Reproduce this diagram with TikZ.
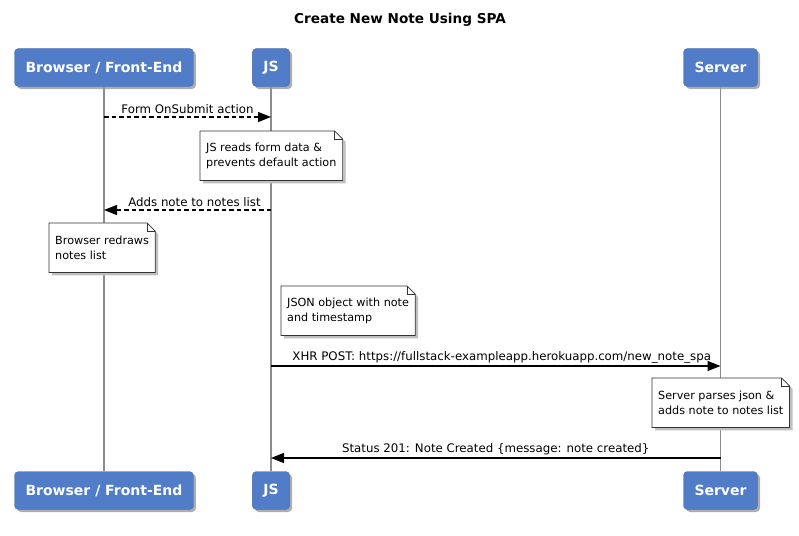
\documentclass[tikz,border=0pt]{standalone}
\usepackage{fontspec}
\setmainfont{DejaVu Sans}
\usetikzlibrary{arrows.meta,shadows}
\definecolor{actorblue}{RGB}{80,124,200}
\definecolor{lifegray}{RGB}{140,140,140}
\pgfdeclarelayer{background}
\pgfdeclarelayer{notes}
\pgfsetlayers{background,notes,main}
\tikzset{
  actor/.style={draw=actorblue!85!black, fill=actorblue, rounded corners=4pt,
    text=white, font=\bfseries\fontsize{14}{17}\selectfont, minimum height=38pt,
    inner xsep=11pt,
    drop shadow={shadow xshift=2.5pt, shadow yshift=-2.5pt, fill=black!40, opacity=.8}},
  life/.style={lifegray, line width=1.4pt},
  msg/.style={line width=1.3pt, -{Triangle[length=13pt,width=10pt]}},
  async/.style={msg, dash pattern=on 4.5pt off 3pt},
  lbl/.style={font=\fontsize{11.8}{14}\selectfont, inner sep=2.5pt, above},
  note/.style={anchor=north west, font=\fontsize{11.2}{15}\selectfont, align=left,
    inner xsep=6pt, inner ysep=4pt, minimum height=49pt},
  noteline/.style={draw=black!80, line width=0.7pt},
}
% body of a note: shadow, dog-eared outline and fold
\newcommand{\notebody}[1]{%
  \begin{pgfonlayer}{notes}
    \fill[black!25] ([shift={(3pt,-3pt)}]#1.north west) -- ([shift={(-5pt,-3pt)}]#1.north east)
      -- ([shift={(3pt,-11pt)}]#1.north east) -- ([shift={(3pt,-3pt)}]#1.south east)
      -- ([shift={(3pt,-3pt)}]#1.south west) -- cycle;
    \filldraw[noteline, fill=white] (#1.north west) -- ([xshift=-8pt]#1.north east)
      -- ([yshift=-8pt]#1.north east) -- (#1.south east) -- (#1.south west) -- cycle;
    \draw[noteline, line width=0.5pt] ([xshift=-8pt]#1.north east) |- ([yshift=-8pt]#1.north east);
  \end{pgfonlayer}}
\begin{document}
\begin{tikzpicture}[x=1pt, y=-1pt]
\useasboundingbox (0,0) rectangle (799,535);
\node[font=\bfseries\fontsize{13.6}{16}\selectfont] (title) at (400,20) {Create New Note Using SPA};
% participants
\node[actor] (brtop) at (104,67.5) {Browser / Front-End};
\node[actor] (jstop) at (271,67.5) {JS};
\node[actor] (svtop) at (720.5,67.5) {Server};
\node[actor] (brbot) at (104,490.5) {Browser / Front-End};
\node[actor] (jsbot) at (271,490.5) {JS};
\node[actor] (svbot) at (720.5,490.5) {Server};
% lifelines
\begin{pgfonlayer}{background}
\draw[life] (brtop) -- (brbot);
\draw[life] (jstop) -- (jsbot);
\draw[life] (svtop) -- (svbot);
\end{pgfonlayer}
% points on the lifelines
\coordinate (br1) at (brtop |- 0,117);
\coordinate (js1) at (jstop |- 0,117);
\coordinate (br2) at (brtop |- 0,210);
\coordinate (js2) at (jstop |- 0,210);
\coordinate (js3) at (jstop |- 0,366);
\coordinate (sv3) at (svtop |- 0,366);
\coordinate (js4) at (jstop |- 0,458);
\coordinate (sv4) at (svtop |- 0,458);
% messages and notes
\draw[async] (br1) -- node[lbl] {Form OnSubmit action} (js1);
\node[note] (readnote) at (200,131) {JS reads form data \&\\prevents default action};
\notebody{readnote}
\draw[async] (js2) -- node[lbl, xshift=7pt] {Adds note to notes list} (br2);
\node[note] (redrawnote) at (49,223) {Browser redraws\\notes list};
\notebody{redrawnote}
\node[note] (jsonnote) at (281,286) {JSON object with note\\and timestamp};
\notebody{jsonnote}
\draw[msg] (js3) -- node[lbl, xshift=6pt] {XHR POST: https://fullstack-exampleapp.herokuapp.com/new\_note\_spa} (sv3);
\node[note] (parsenote) at (652,378) {Server parses json \&\\adds note to notes list};
\notebody{parsenote}
\draw[msg] (sv4) -- node[lbl] {Status 201: Note Created \{message: note created\}} (js4);
\end{tikzpicture}
\end{document}
